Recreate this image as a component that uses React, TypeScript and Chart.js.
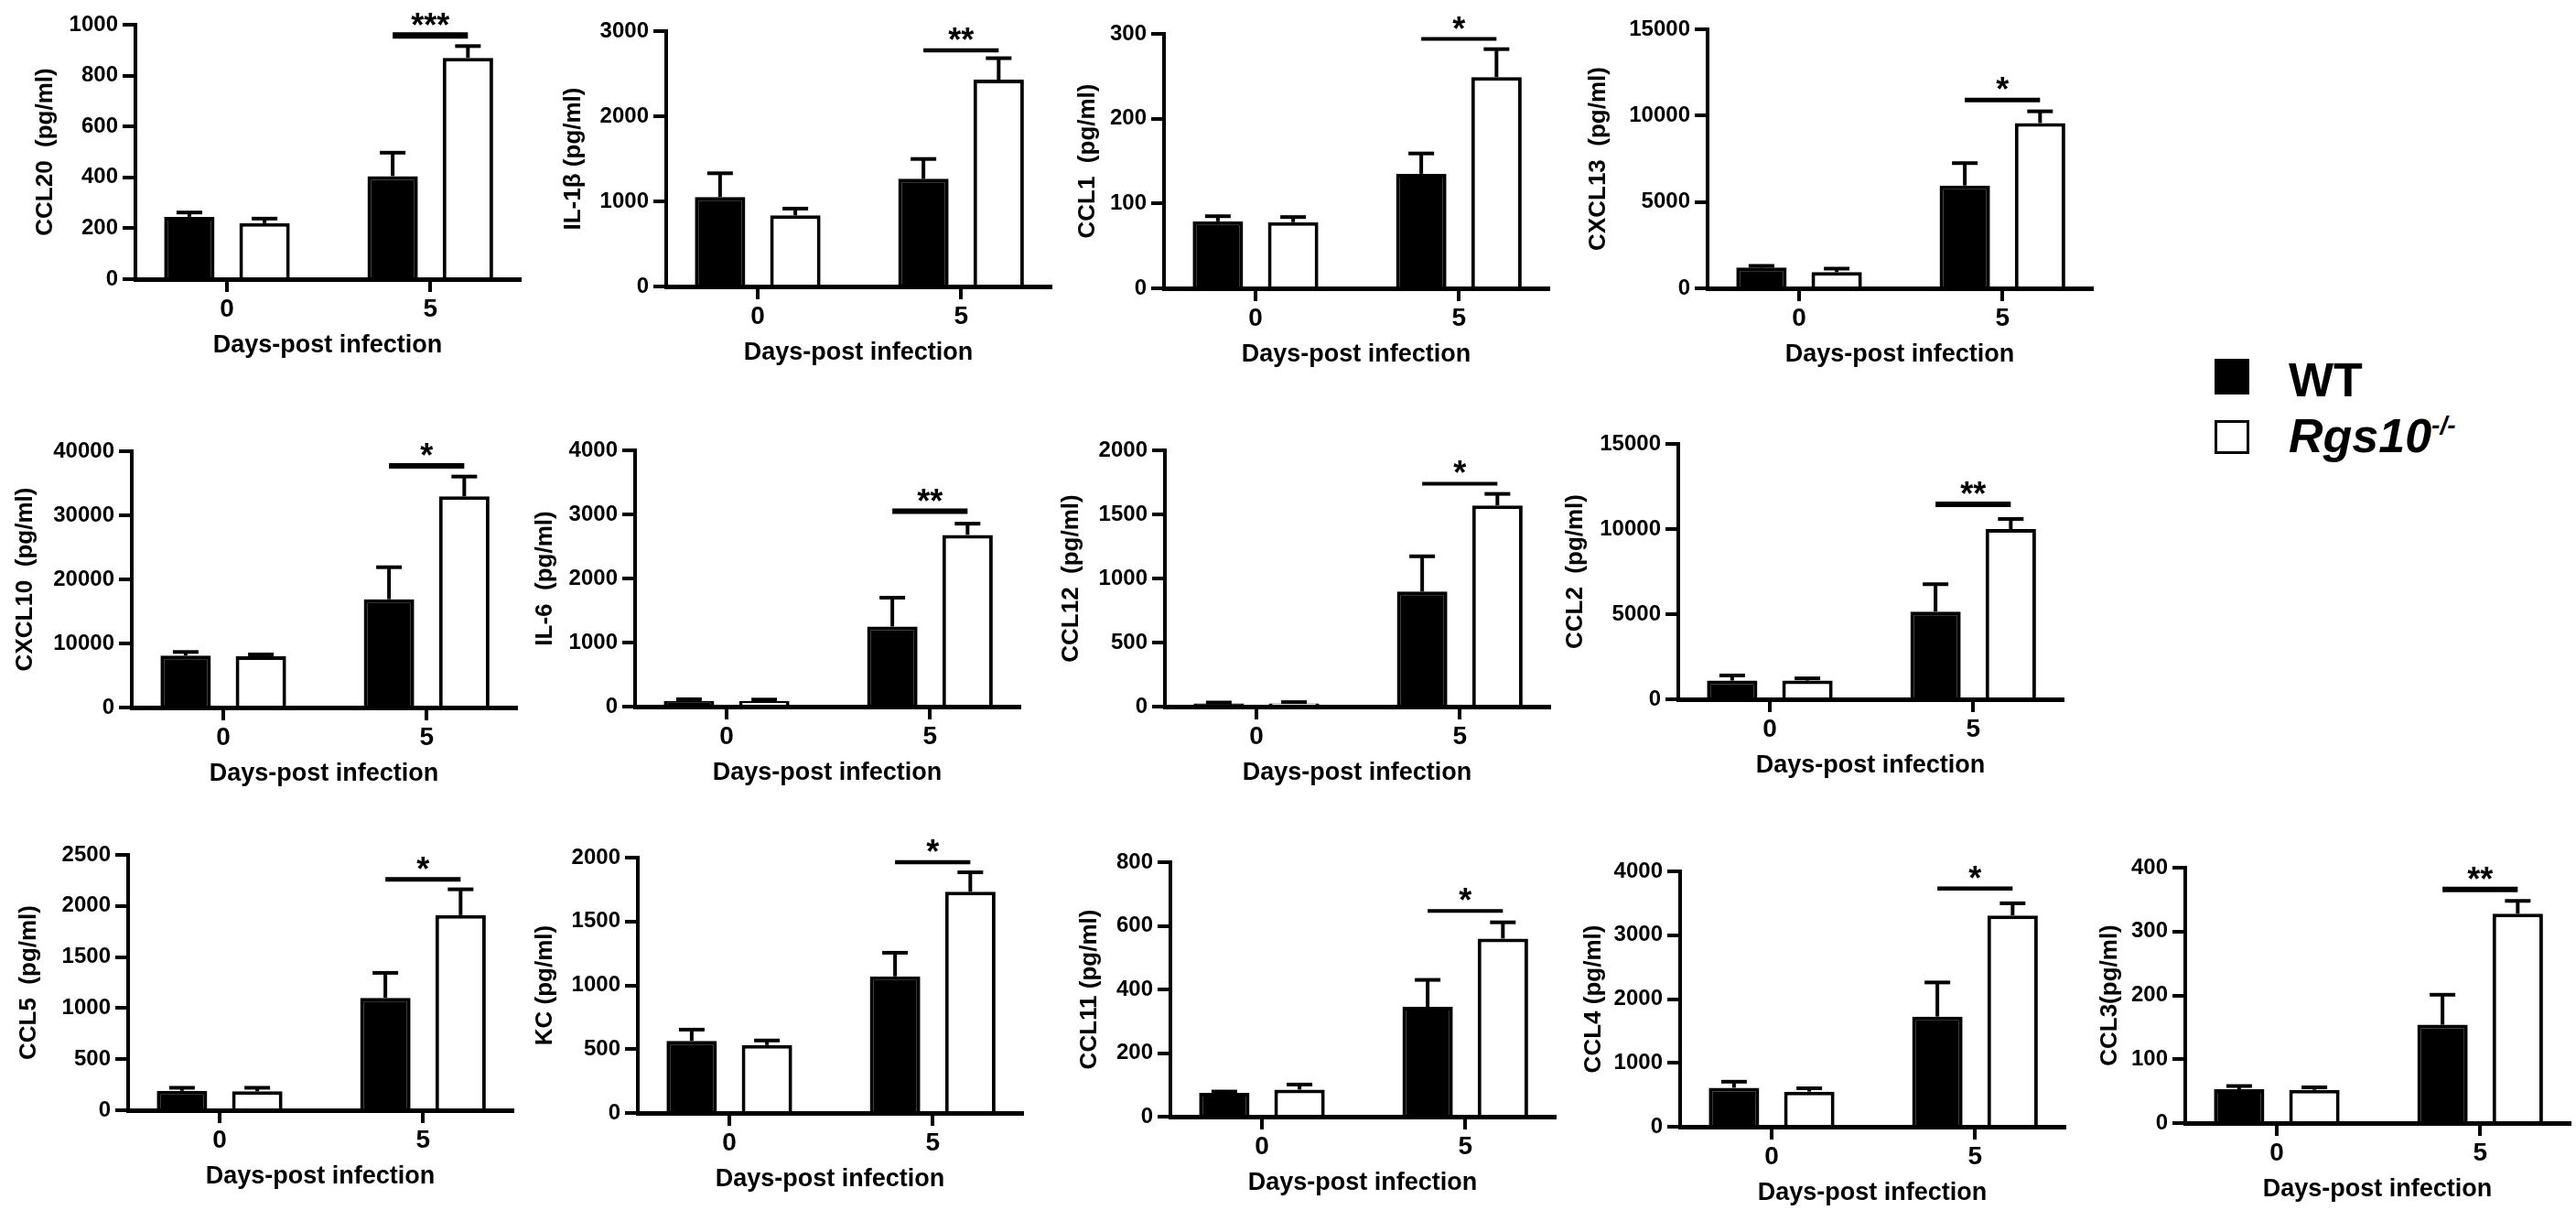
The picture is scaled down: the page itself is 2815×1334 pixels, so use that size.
import React, { useEffect, useRef } from 'react';
import { Chart, registerables } from 'chart.js';

Chart.register(...registerables);

const FONT = "'Liberation Sans', Arial, Helvetica, sans-serif";
Chart.defaults.font.family = FONT;

// ---------- data ----------
const days = [0, 5];
const dayLabels = ['0', '5'];
const seriesNames = ['WT', 'Rgs10-/-'];
const xTitle = 'Days-post infection';

const yTitles = [
  'CCL20  (pg/ml)', 'IL-1β (pg/ml)', 'CCL1  (pg/ml)', 'CXCL13  (pg/ml)',
  'CXCL10  (pg/ml)', 'IL-6  (pg/ml)', 'CCL12  (pg/ml)', 'CCL2  (pg/ml)',
  'CCL5  (pg/ml)', 'KC (pg/ml)', 'CCL11 (pg/ml)', 'CCL4 (pg/ml)', 'CCL3(pg/ml)',
];
const yMax = [1000, 3000, 300, 15000, 40000, 4000, 2000, 15000, 2500, 2000, 800, 4000, 400];
const yStep = [200, 1000, 100, 5000, 10000, 1000, 500, 5000, 500, 500, 200, 1000, 100];

const wtMean = [
  [245, 405], [1050, 1265], [79, 135], [1200, 5950],
  [8100, 16900], [90, 1250], [25, 898], [1100, 5150],
  [190, 1100], [565, 1070], [75, 345], [610, 1725], [53, 154],
];
const wtSem = [
  [17, 92], [280, 233], [6, 24], [100, 1300],
  [570, 5000], [25, 450], [7, 275], [300, 1610],
  [30, 245], [88, 185], [4, 85], [95, 535], [5, 47],
];
const koMean = [
  [220, 870], [835, 2430], [78, 249], [940, 9570],
  [8000, 32950], [85, 2680], [25, 1570], [1100, 10000],
  [185, 1910], [532, 1733], [85, 560], [550, 3310], [52, 328],
];
const koSem = [
  [18, 46], [80, 252], [6, 33], [200, 680],
  [290, 3100], [25, 175], [10, 90], [130, 590],
  [35, 253], [36, 152], [16, 51], [52, 190], [4, 20],
];
const sigLevel = [958, 2775, 294, 10900, 37700, 3050, 1740, 11450, 2260, 1965, 647, 3730, 366];
const sigStars = ['***', '**', '*', '*', '*', '**', '*', '**', '*', '*', '*', '*', '**'];

// ---------- layout / style (pixels) ----------
const axisLeft = [148, 728, 1272, 1866, 144, 694, 1273, 1834, 140, 697, 1279, 1836, 2388];
const titleCenterX = [50, 627, 1189, 1747, 28, 596, 1171, 1722, 32, 596, 1191, 1742, 2306];
const plotTop = [27, 34, 37, 32, 493, 492, 492, 485, 934, 937, 942, 952, 948];
const plotBottom = [305, 313, 315, 315, 773, 772, 772, 764, 1213, 1216, 1220, 1231, 1227];
const sigWidth = [7, 4.5, 4, 5, 6, 6, 4, 6, 5, 4.5, 4, 4.5, 6];
const PLOT_W = 420;
const PAD_TOP = 48;
const PAD_RIGHT = 12;
const X_H = 89;

function Panel({ p }: { p: number }) {
  const ref = useRef<HTMLCanvasElement>(null);
  const left = Math.round(titleCenterX[p] - 15.6);
  const yw = axisLeft[p] - left;
  const w = yw + PLOT_W + PAD_RIGHT;
  const h = PAD_TOP + plotBottom[p] - plotTop[p] + X_H;
  const top = plotTop[p] - PAD_TOP;

  useEffect(() => {
    if (!ref.current) return;
    const errSig = {
      id: 'errSig',
      afterDatasetsDraw(chart: any) {
        const ctx = chart.ctx;
        const ys = chart.scales.y;
        const means = [wtMean[p], koMean[p]];
        const sems = [wtSem[p], koSem[p]];
        ctx.save();
        ctx.strokeStyle = '#000';
        ctx.lineCap = 'butt';
        for (let d = 0; d < 2; d++) {
          const meta = chart.getDatasetMeta(d);
          meta.data.forEach((el: any, i: number) => {
            const x = el.x;
            const y0 = el.y;
            const y1 = ys.getPixelForValue(means[d][i] + sems[d][i]);
            ctx.lineWidth = 4;
            ctx.beginPath();
            ctx.moveTo(x, y0);
            ctx.lineTo(x, y1);
            ctx.stroke();
            ctx.beginPath();
            ctx.moveTo(x - 14, y1);
            ctx.lineTo(x + 14, y1);
            ctx.stroke();
          });
        }
        const a = chart.getDatasetMeta(0).data[1];
        const b = chart.getDatasetMeta(1).data[1];
        const sy = ys.getPixelForValue(sigLevel[p]);
        ctx.lineWidth = sigWidth[p];
        ctx.beginPath();
        ctx.moveTo(a.x, sy);
        ctx.lineTo(b.x, sy);
        ctx.stroke();
        ctx.fillStyle = '#000';
        ctx.font = `bold 36px ${FONT}`;
        ctx.textAlign = 'center';
        ctx.textBaseline = 'alphabetic';
        ctx.fillText(sigStars[p], (a.x + b.x) / 2, sy + 1);
        ctx.restore();
      },
    };

    const chart = new Chart(ref.current, {
      type: 'bar',
      data: {
        datasets: [
          {
            label: seriesNames[0],
            data: days.map((d, i) => ({ x: d, y: wtMean[p][i] })),
            backgroundColor: '#000',
            borderColor: '#000',
            borderWidth: 4,
            categoryPercentage: 0.74,
            barPercentage: 0.67,
          },
          {
            label: seriesNames[1],
            data: days.map((d, i) => ({ x: d, y: koMean[p][i] })),
            backgroundColor: '#fff',
            borderColor: '#000',
            borderWidth: 4,
            categoryPercentage: 0.74,
            barPercentage: 0.67,
          },
        ],
      },
      options: {
        animation: false,
        responsive: false,
        devicePixelRatio: 1,
        layout: { padding: { top: PAD_TOP, left: 0, right: PAD_RIGHT, bottom: 0 } },
        plugins: { legend: { display: false }, tooltip: { enabled: false } },
        scales: {
          x: {
            type: 'linear',
            min: -2.25,
            max: 7.2,
            offset: false,
            afterBuildTicks: (s: any) => {
              s.ticks = days.map((v) => ({ value: v }));
            },
            afterFit: (s: any) => {
              s.height = X_H;
            },
            ticks: {
              color: '#000',
              font: { family: FONT, size: 28, weight: 'bold' },
              padding: 2,
              maxRotation: 0,
              autoSkip: false,
              callback: (v: any) => {
                const k = days.indexOf(Number(v));
                return k >= 0 ? dayLabels[k] : '';
              },
            },
            grid: {
              display: true,
              drawOnChartArea: false,
              drawTicks: true,
              tickLength: 14,
              lineWidth: 4,
              color: '#000',
              offset: false,
            },
            border: { display: true, width: 5, color: '#000' },
            title: {
              display: true,
              text: xTitle,
              color: '#000',
              font: { family: FONT, size: 27, weight: 'bold' },
              padding: { top: 0, bottom: 0 },
            },
          },
          y: {
            type: 'linear',
            min: 0,
            max: yMax[p],
            afterFit: (s: any) => {
              s.width = yw;
            },
            ticks: {
              stepSize: yStep[p],
              color: '#000',
              font: { family: FONT, size: 24, weight: 'bold' },
              padding: 5,
              callback: (v: any) => String(v),
            },
            grid: {
              display: true,
              drawOnChartArea: false,
              drawTicks: true,
              tickLength: 14,
              lineWidth: 4,
              color: '#000',
            },
            border: { display: true, width: 4, color: '#000' },
            title: {
              display: true,
              text: yTitles[p],
              color: '#000',
              font: { family: FONT, size: 26, weight: 'bold' },
              padding: { top: 0, bottom: 0 },
            },
          },
        },
      } as any,
      plugins: [errSig],
    });
    return () => chart.destroy();
  }, [p, yw]);

  return (
    <canvas
      ref={ref}
      width={w}
      height={h}
      style={{ position: 'absolute', left, top, width: w, height: h }}
    />
  );
}

function Legend() {
  const txt: React.CSSProperties = {
    position: 'absolute',
    left: 2501,
    fontFamily: FONT,
    fontWeight: 'bold',
    fontSize: 52,
    lineHeight: '52px',
    color: '#000',
    whiteSpace: 'nowrap',
  };
  return (
    <>
      <div style={{ position: 'absolute', left: 2420, top: 392, width: 38, height: 39, background: '#000' }} />
      <div style={{ ...txt, top: 389 }}>{seriesNames[0]}</div>
      <div
        style={{
          position: 'absolute', left: 2420, top: 459, width: 38, height: 37,
          background: '#fff', border: '3px solid #000', boxSizing: 'border-box',
        }}
      />
      <div style={{ ...txt, top: 450, fontStyle: 'italic' }}>
        {seriesNames[1].slice(0, 5)}
        <span style={{ fontSize: 28, position: 'relative', top: -20 }}>{seriesNames[1].slice(5)}</span>
      </div>
    </>
  );
}

export default function App() {
  return (
    <div
      style={{
        position: 'absolute', left: 0, top: 0, width: 2815, height: 1334,
        overflow: 'hidden', background: '#fff',
      }}
    >
      {yTitles.map((_, p) => (
        <Panel key={p} p={p} />
      ))}
      <Legend />
    </div>
  );
}
